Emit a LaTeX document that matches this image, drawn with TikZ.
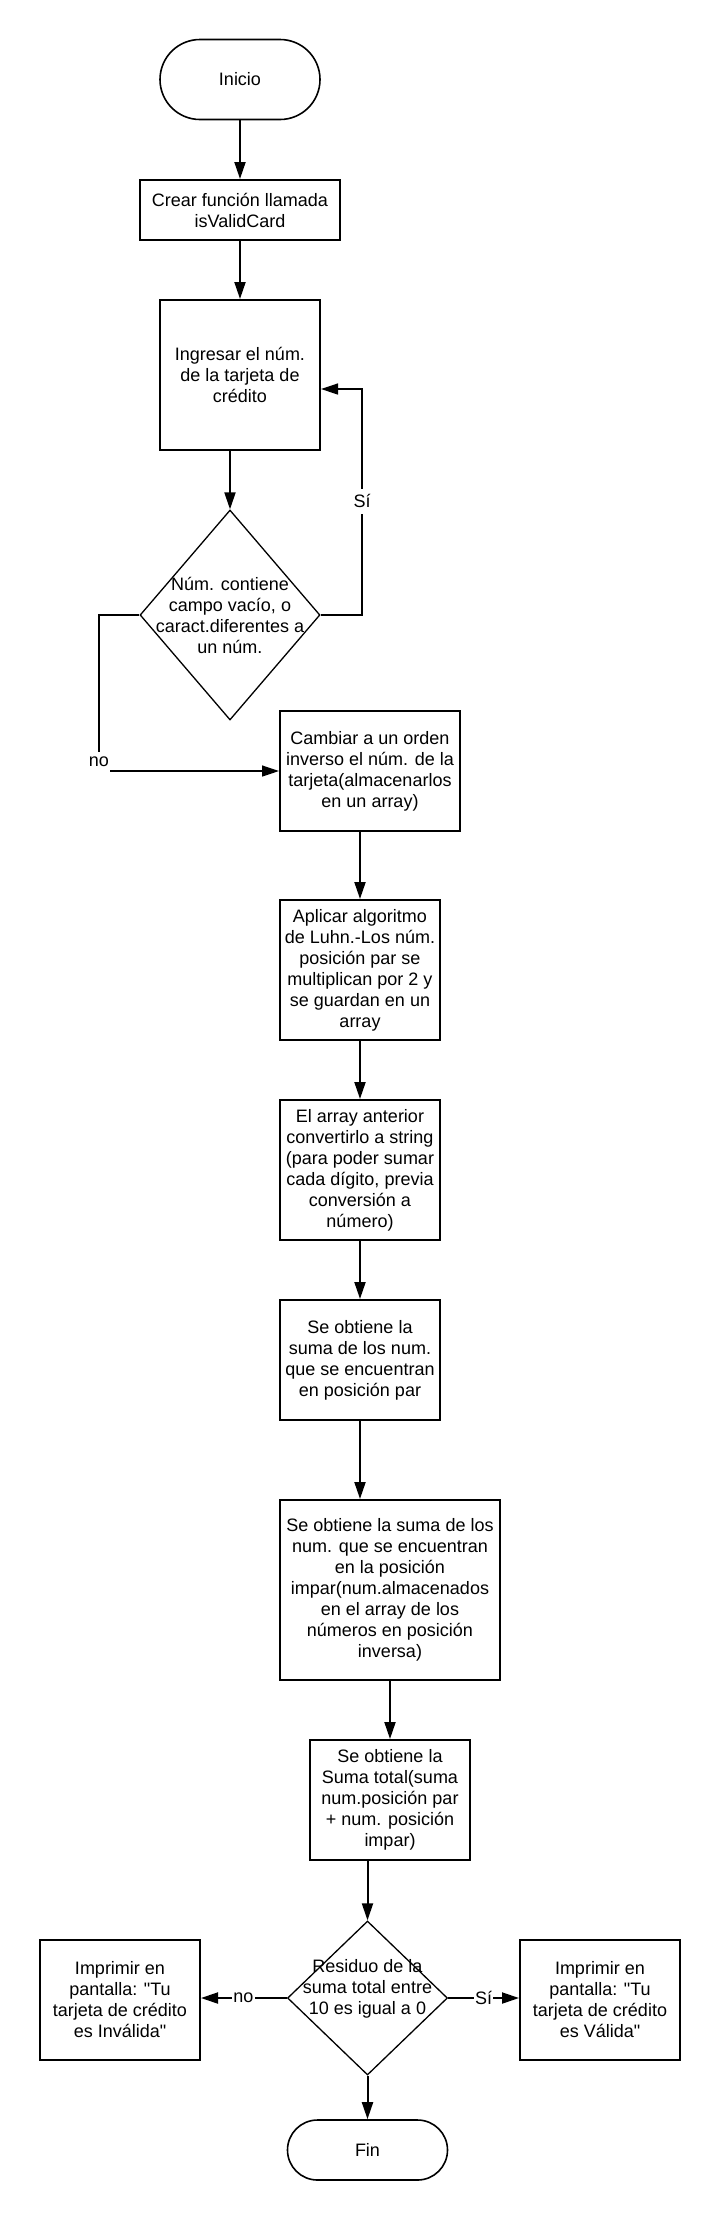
\documentclass[tikz,border=0pt]{standalone}
\usepackage{fontspec}
\setmainfont{Liberation Sans}[Ligatures=TeXOff]
\usetikzlibrary{arrows.meta,shapes.geometric}
\begin{document}
\begin{tikzpicture}[x=1pt,y=-1pt,
  font=\fontsize{18}{21}\selectfont,
  box/.style={draw, line width=2pt, align=center, inner sep=0pt},
  term/.style={draw, line width=1.6pt, rounded corners=#1, align=center, inner sep=0pt},
  dec/.style={draw, diamond, line width=1.3pt, inner sep=0pt},
  flow/.style={line width=2pt, -{Triangle[length=17pt,width=11pt]}},
  back/.style={line width=1.3pt, -{Triangle[length=17pt,width=11pt]}},
  lbl/.style={fill=white, inner xsep=1pt, inner ysep=1pt},
]
\fill[white] (0,0) rectangle (720,2220);
\useasboundingbox (0,0) rectangle (720,2220);

\node[term=40pt, minimum width=160pt, minimum height=80pt] (ini) at (240,79.5) {Inicio};
\node[box, minimum width=200pt, minimum height=60pt] (crear) at (240,210) {Crear función llamada\\isValidCard};
\node[box, minimum width=160pt, minimum height=150pt] (ing) at (240,375) {Ingresar el núm.\\de la tarjeta de\\crédito};
\node[dec, minimum width=180pt, minimum height=210pt,
  label={[align=center]center:{Núm. contiene\\campo vacío, o\\caract.diferentes a\\un núm.}}] (d1) at (230,615) {};
\node[box, minimum width=180pt, minimum height=120pt] (cam) at (370,771) {Cambiar a un orden\\inverso el núm. de la\\tarjeta(almacenarlos\\en un array)};
\node[box, minimum width=160pt, minimum height=140pt] (apl) at (360,970) {Aplicar algoritmo\\de Luhn.-Los núm.\\posición par se\\multiplican por 2 y\\se guardan en un\\array};
\node[box, minimum width=160pt, minimum height=140pt] (arr) at (360,1170) {El array anterior\\convertirlo a string\\(para poder sumar\\cada dígito, previa\\conversión a\\número)};
\node[box, minimum width=160pt, minimum height=120pt] (par) at (360,1360) {Se obtiene la\\suma de los num.\\que se encuentran\\en posición par};
\node[box, minimum width=220pt, minimum height=180pt] (imp) at (390,1590) {Se obtiene la suma de los\\num. que se encuentran\\en la posición\\impar(num.almacenados\\en el array de los\\números en posición\\inversa)};
\node[box, minimum width=160pt, minimum height=120pt] (tot) at (390,1800) {Se obtiene la\\Suma total(suma\\num.posición par\\+ num. posición\\impar)};
\node[dec, minimum width=160pt, minimum height=154pt,
  label={[align=center, yshift=9pt]center:{Residuo de la\\suma total entre\\10 es igual a 0}}] (d2) at (367.5,1998) {};
\node[box, minimum width=160pt, minimum height=120pt] (inv) at (120,2000) {Imprimir en\\pantalla: "Tu\\tarjeta de crédito\\es Inválida"};
\node[box, minimum width=160pt, minimum height=120pt] (val) at (600,2000) {Imprimir en\\pantalla: "Tu\\tarjeta de crédito\\es Válida"};
\node[term=30pt, minimum width=160pt, minimum height=60pt] (fin) at (367.5,2150) {Fin};

\coordinate (siC) at (362,389);
\coordinate (noC) at (99,771);

\draw[flow] (ini.south) -- (crear.north);
\draw[flow] (crear.south) -- (ing.north);
\draw[flow] (d1.north |- ing.south) -- (d1.north);
\draw[back] (d1.east) -| (siC) -- (ing.east |- siC);
\draw[back] (d1.west) -| (noC) -- (cam.west |- noC);
\draw[flow] (apl.north |- cam.south) -- (apl.north);
\draw[flow] (apl.south) -- (arr.north);
\draw[flow] (arr.south) -- (par.north);
\draw[flow] (par.south) -- (par.south |- imp.north);
\draw[flow] (imp.south) -- (tot.north);
\draw[flow] (d2.north |- tot.south) -- (d2.north);
\draw[flow] (d2.west) -- (inv.east |- d2.west);
\draw[flow] (d2.east) -- (val.west |- d2.east);
\draw[flow] (d2.south) -- (fin.north);

\node[lbl, minimum height=25pt] (si1) at (362,501) {Sí};
\node[lbl, minimum height=20pt] (no1) at (99,762) {no};
\node[lbl] (no2) at (243.5,1998) {no};
\node[lbl] (si2) at (483.5,1998) {Sí};
\end{tikzpicture}
\end{document}
